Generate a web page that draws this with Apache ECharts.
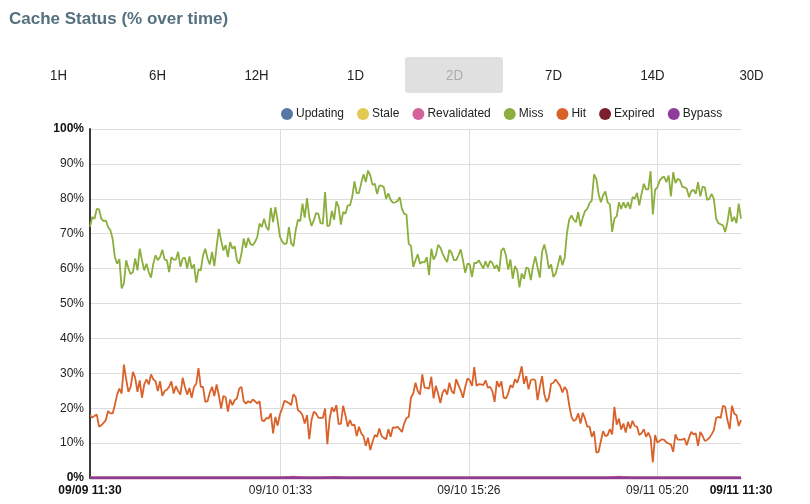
<!DOCTYPE html>
<html><head><meta charset="utf-8">
<script src="https://cdn.jsdelivr.net/npm/echarts@6/dist/echarts.min.js"></script>
<style>html,body{margin:0;padding:0;background:#fff}#c{width:810px;height:504px}</style>
</head><body><div id="c"></div>
<script>
// ---- data ----
const rangeButtons = ['1H','6H','12H','1D','2D','7D','14D','30D'];
const activeRange = '2D';
const seriesNames = ['Updating','Stale','Revalidated','Miss','Hit','Expired','Bypass'];
const seriesColors = ['#5878a3','#e2c94f','#d2619c','#8bae3c','#d9622b','#7c1f2d','#8e3b9c'];

const spanMinutes = 2880;      // 09/09 11:30 -> 09/11 11:30
const stepMinutes = 10;        // sample spacing for Miss / Hit
const hourlyStep = 60;         // sample spacing for the near-zero series
const xTickMinutes = [0, 843, 1676, 2510, 2880];
const xTickLabels = ['09/09 11:30','09/10 01:33','09/10 15:26','09/11 05:20','09/11 11:30'];
const xGridMinutes = [843, 1676, 2510];

const miss = [
72,74.8,74.3,77.1,77,74.3,73.6,73.8,71.9,71,
68.6,63.3,61.4,62.7,54.3,55.7,62.4,60,58.4,59,
62.9,59.5,65.7,62.4,59.5,61.4,59,57.4,61.4,63.8,
62.4,63.3,65.4,62.6,62.4,59,63.3,62.6,62.6,64.8,
60.5,62.9,63.1,60,63.5,60,61.2,56,59.7,59.5,
63.8,65.7,62.9,61.2,64.8,60.7,66.2,71.4,68.1,65.2,
66.7,63.3,67.6,65.7,66.4,62.4,61.4,64.3,68.6,66,
68.8,67,66.7,67.6,69,72.9,71.9,74.3,71.9,71,
77.4,73.3,77.6,73.8,69.2,67.8,
67,67.3,71.9,67.3,66.4,71,74,73.6,78.6,74.6,
80.2,74.8,72.2,73.8,75.9,75.7,73,72.9,81.9,72.2,
72.4,76.5,74,79.3,77.6,72.6,76.2,75.7,78.1,78.1,
80.5,85,81.6,81.7,84.5,87,84.8,88.1,86.7,84,
84.3,81.4,83.8,83.8,83.3,80,81.6,79.7,78.9,79,
79.3,80.5,77.1,75.7,75.5,67.1,66.5,60.5,62.4,64.1,
61.4,61.9,61.8,63.3,58.1,65.7,62.6,63.8,66.8,66,
64.3,62.9,61.9,65.4,64.5,62.4,62.4,63.8,65.5,62.4,
58.8,61.4,61.2,57.6,
61.6,61.6,62.4,61.2,60,62.1,60.3,62.2,61.6,60,
61,59.2,65.2,65.9,63.8,59.7,62.6,57.1,60.7,59.5,
54.6,58.6,57.1,60.3,60,56.7,60.7,63.5,60.3,57.4,
64.8,66.9,64.1,60,61.2,57.6,58.6,61,63.8,61,
63.1,70.2,74,75.2,74,73.3,76.2,72.1,74.6,76.5,
77.1,78.8,79.5,87,85.7,81.4,79,81,82.1,79,
78.4,70.5,74.3,75,79,77.1,79,77.4,79,77.1,
80.5,80,81.7,78.1,81.4,84.3,82.7,82.7,87.9,75.5,
82.6,83.3,85.2,86,
86.4,84.8,86.7,80.7,87.6,84.5,85.7,85.4,83.5,83.3,
82.9,80.5,82.2,82.6,81.4,84.8,80.7,83.5,83.3,79.7,
80,81.4,80,74.3,73,72.7,72.4,70.5,73.3,77.6,
73.5,74.8,73,78.6,74.3
];

const hit = [
18,17.3,17.8,18.2,14.7,15.1,15.8,16.6,19.2,18.5,
18.5,20.9,23.9,25.6,24.2,32.5,28.3,24.7,26.1,30.4,
28.7,24.7,28,23,26.8,28.3,26.8,29.7,28.3,27.7,
24.9,27.7,23.5,24.9,25.3,26.1,27.7,24.2,26.3,24.9,
23.9,28.7,26.1,23.9,25.8,23,26.1,27,31.5,26.1,
26.1,21.8,22,24.5,26.1,23.5,26.8,23.7,19.9,23.5,
23.2,19,22.5,20.9,22.3,22.8,25.6,26.1,22,21.3,
22,21.6,22.5,22,21.3,22,16.6,16.3,17.2,17,
18.5,12.8,17.5,15,18.2,19.9,22.1,21.8,21.5,20.9,
24,23.2,19.4,19,18,15.6,18,
11.1,16.6,19,18.5,17.3,17.2,17.2,19.9,9.7,16.9,
20.2,19,20.9,15.4,15.6,20.7,18,14.7,16.6,15.1,
15.3,12,14.7,12.8,12,9.2,11.5,8,10.4,12.3,
11.8,14.2,12,11.5,11.1,14,11.8,14.5,14.4,14.7,
14,13.2,15.6,17.2,17.5,23,24.2,27.3,24.9,23.9,
29.7,25.9,25.8,25.6,29,22.8,26.4,24.2,21.5,24.5,
25.4,23.9,27.3,24.9,24.2,28.3,26.6,25.1,23,26.1,
28.5,28,26.4,31.8,26.4,26.9,26.8,26.6,28,25.9,
26.1,24.9,21.8,27.8,26.1,27.7,23,22.8,24.2,26.6,
25.9,28.3,27.3,29.4,
32,27,29.2,25.4,28,28.3,28,22.3,26.1,29.2,
23.9,21.8,23,27,27.3,28.2,27.3,26.4,24.5,26.1,
25.1,20.9,17.5,16.3,16.8,18.5,15.6,18.7,17,14.7,
14.7,11.8,13.4,7.3,7.5,10.6,13.4,12,12.3,14,
12.5,20.4,15.3,17,13.9,15.6,13,16.1,14.2,16.4,
14.9,14.7,12.3,12.8,14,11.8,13,11.5,4.5,12.3,
10.2,10.6,11.1,10.9,10.2,9.9,9.6,7.5,12.5,11,
11,11,11.3,9.4,11.5,13.2,12.5,12.8,9.2,13.2,
12.1,10.6,10.9,11.5,12.5,13.7,17.2,17.5,17.2,20.7,
20.4,16.6,14,20.7,18.5,18,14.9,16.6
];

// near-zero series, hourly readings (49 points)
const updating    = [0,0,0,0,0,0,0,0,0,0,0,0,0,0,0,0,0,0,0,0,0,0,0,0,0,0,0,0,0,0,0,0,0,0,0,0,0,0,0,0,0,0,0,0,0,0,0,0,0];
const stale       = [0,0,0,0,0,0,0,0,0,0,0,0,0,0,0,0,0,0,0,0,0,0,0,0,0,0,0,0,0,0,0,0,0,0,0,0,0,0,0,0,0,0,0,0,0,0,0,0,0];
const revalidated = [0,0,0,0,0,0,0,0,0,0,0,0,0,0,0,0.3,0,0,0.2,0,0,0,0,0,0,0,0,0,0,0,0,0,0,0,0,0,0,0,0,0.3,0,0,0,0,0,0,0,0,0];
const expired     = [0,0,0,0,0,0,0,0,0,0,0,0,0,0,0,0,0,0,0,0,0,0,0,0,0,0,0,0,0,0,0,0,0,0,0,0,0,0,0,0,0,0,0,0,0,0,0,0,0];
const bypass      = [0,0,0,0,0,0,0,0,0,0,0,0,0,0,0,0,0,0,0,0,0,0,0,0,0,0,0,0,0,0,0,0,0,0,0,0,0,0,0,0,0,0,0,0,0,0,0,0,0];

// ---- chart ----
const toPairs = (arr, step) => arr.map((v, i) => [i * step, v]);
const seriesData = [
  toPairs(updating, hourlyStep), toPairs(stale, hourlyStep), toPairs(revalidated, hourlyStep),
  toPairs(miss, stepMinutes), toPairs(hit, stepMinutes),
  toPairs(expired, hourlyStep), toPairs(bypass, hourlyStep)
];

const FONT = '"Liberation Sans", Arial, Helvetica, sans-serif';
const chart = echarts.init(document.getElementById('c'), null, {renderer: 'canvas'});

const btnLeft = 9, btnW = 99, btnTop = 57, btnH = 36;
const graphics = [];
rangeButtons.forEach((b, i) => {
  const active = b === activeRange;
  if (active) {
    graphics.push({type: 'rect', left: btnLeft + i * btnW, top: btnTop,
      shape: {width: btnW - 1, height: btnH, r: 3}, style: {fill: '#e0e0e0'}});
  }
  graphics.push({type: 'text', x: btnLeft + i * btnW + btnW / 2, y: btnTop + btnH / 2 + 1,
    scaleX: 0.88, originX: 0, originY: 0,
    style: {x: 0, y: 0, text: b, fill: active ? '#aaaaaa' : '#222', font: '15px "Liberation Sans", Arial, sans-serif',
      textAlign: 'center', textVerticalAlign: 'middle'}});
});

chart.setOption({
  animation: false,
  textStyle: {fontFamily: FONT},
  title: {text: 'Cache Status (% over time)', left: 4, top: 6,
    textStyle: {fontSize: 17, fontWeight: 'bold', color: '#55707f', fontFamily: FONT}},
  graphic: graphics,
  legend: {data: seriesNames, left: 276, top: 103, icon: 'circle', itemWidth: 12, itemHeight: 12,
    itemGap: 13, textStyle: {fontSize: 12, color: '#222', fontFamily: FONT, padding: [0, 0, 0, -2]}},
  grid: {left: 90, right: 69, top: 129, bottom: 26, containLabel: false},
  xAxis: {
    type: 'value', min: 0, max: spanMinutes,
    axisLine: {show: true, lineStyle: {color: '#333', width: 1}},
    axisTick: {show: false, customValues: xGridMinutes},
    splitLine: {show: true, lineStyle: {color: '#dddddd', width: 1}},
    axisLabel: {
      customValues: xTickMinutes, margin: 7, fontSize: 12, color: '#222', fontFamily: FONT,
      formatter: (v) => {
        const k = xTickMinutes.indexOf(v);
        const t = k >= 0 ? xTickLabels[k] : '';
        return (k === 0 || k === xTickMinutes.length - 1) ? '{b|' + t + '}' : t;
      },
      rich: {b: {fontWeight: 'bold', fontSize: 12, color: '#111', fontFamily: FONT}}
    }
  },
  yAxis: {
    type: 'value', min: 0, max: 100, interval: 10,
    axisLine: {show: true, lineStyle: {color: '#3a3a3a', width: 2}},
    axisTick: {show: false},
    splitLine: {show: true, lineStyle: {color: '#dddddd', width: 1}},
    axisLabel: {
      margin: 6, fontSize: 12, color: '#222', fontFamily: FONT,
      formatter: (v) => (v === 0 || v === 100) ? '{b|' + v + '%}' : v + '%',
      rich: {b: {fontWeight: 'bold', fontSize: 12, color: '#111', fontFamily: FONT}}
    }
  },
  series: seriesNames.map((n, i) => ({
    name: n, type: 'line', data: seriesData[i], color: seriesColors[i],
    showSymbol: false, symbol: 'none',
    lineStyle: {width: (n === 'Miss' || n === 'Hit') ? 1.8 : 2.5, color: seriesColors[i]},
    itemStyle: {color: seriesColors[i]}
  }))
});
</script></body></html>
